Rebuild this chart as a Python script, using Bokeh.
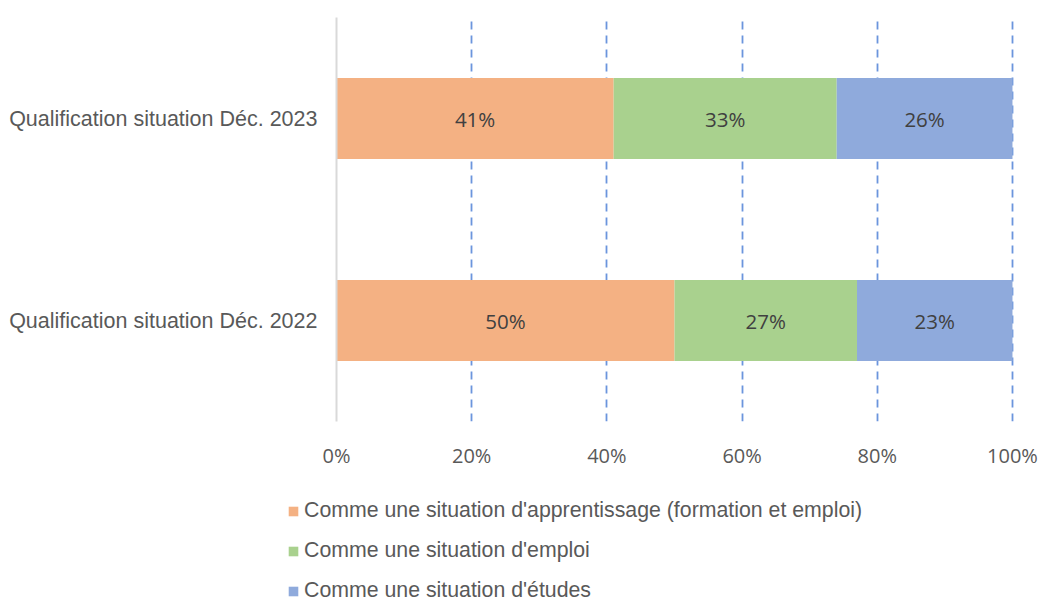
from bokeh.plotting import figure
from bokeh.layouts import column, row
from bokeh.models import ColumnDataSource, FactorRange, Range1d, FixedTicker, NumeralTickFormatter, Legend, LegendItem
from bokeh.core.properties import value
from bokeh.embed import file_html
from bokeh.resources import INLINE

categories = ["Qualification situation Déc. 2022", "Qualification situation Déc. 2023"]
series_names = [
    "Comme une situation d'apprentissage (formation et emploi)",
    "Comme une situation d'emploi",
    "Comme une situation d'études",
]
apprentissage = [0.50, 0.41]
emploi = [0.27, 0.33]
etudes = [0.23, 0.26]
x_ticks = [0, 0.2, 0.4, 0.6, 0.8, 1.0]

colors = ["#F4B183", "#A9D18E", "#8FAADC"]
keys = ["a", "e", "t"]

src = ColumnDataSource(dict(cat=categories, a=apprentissage, e=emploi, t=etudes))

p = figure(
    width=1040, height=478,
    y_range=FactorRange(*categories, range_padding=0),
    x_range=Range1d(0, 1.003),
    output_backend="svg", toolbar_location=None,
    min_border_left=336, min_border_right=26, min_border_top=17, min_border_bottom=57,
)
p.outline_line_color = None

renderers = p.hbar_stack(keys, y="cat", height=0.4, color=colors, source=src, line_color=None)

# labels
label_font = value("Open Sans")
cum = [0.0] * len(categories)
for key, vals in zip(keys, [apprentissage, emploi, etudes]):
    mids = [c + v / 2 for c, v in zip(cum, vals)]
    txt = [f"{round(v*100)}%" for v in vals]
    p.text(x=mids, y=categories, text=txt, text_align="center", text_baseline="middle",
           text_font=label_font, text_font_size="20.5px", text_color="#404040")
    cum = [c + v for c, v in zip(cum, vals)]

# x axis
p.xaxis.ticker = FixedTicker(ticks=x_ticks)
p.xaxis.formatter = NumeralTickFormatter(format="0%")
p.xaxis.axis_line_color = None
p.xaxis.major_tick_line_color = None
p.xaxis.minor_tick_line_color = None
p.xaxis.major_label_text_font = "Open Sans"
p.xaxis.major_label_text_font_size = "20px"
p.xaxis.major_label_text_color = "#595959"
p.xaxis.major_label_standoff = 14

# y axis
p.yaxis.axis_line_color = "#D9D9D9"
p.yaxis.axis_line_width = 2
p.yaxis.major_tick_line_color = None
p.yaxis.minor_tick_line_color = None
p.yaxis.major_label_text_font = "Liberation Sans"
p.yaxis.major_label_text_font_size = "21.5px"
p.yaxis.major_label_text_color = "#595959"
p.yaxis.major_label_standoff = 13

# grid
p.ygrid.grid_line_color = None
p.xgrid.ticker = FixedTicker(ticks=x_ticks[1:])
p.xgrid.grid_line_color = "#6B95DD"
p.xgrid.grid_line_dash = "8 6"
p.xgrid.grid_line_width = 1.8

# legend strip below the chart
p2 = figure(
    width=1040, height=125, x_range=Range1d(0, 1), y_range=FactorRange(*categories),
    x_axis_type=None, y_axis_type=None, output_backend="svg", toolbar_location=None,
    min_border=0,
)
p2.outline_line_color = None
p2.grid.visible = False
leg_renderers = p2.hbar_stack(keys, y="cat", height=0.4, color=colors, source=src,
                              line_color=None, visible=False)

legend = Legend(
    items=[LegendItem(label=n, renderers=[r]) for n, r in zip(series_names, leg_renderers)],
    location=(287, 0), orientation="vertical",
    glyph_width=12, glyph_height=12, label_standoff=5,
    label_text_font="Liberation Sans", label_text_font_size="21.3px", label_text_color="#595959",
    label_height=24, spacing=15, padding=0, margin=0,
    border_line_color=None, background_fill_alpha=0,
)
p2.add_layout(legend, "center")

layout = column(p, row(p2, spacing=0), spacing=0)
open("out.html", "w").write(file_html(layout, INLINE))
